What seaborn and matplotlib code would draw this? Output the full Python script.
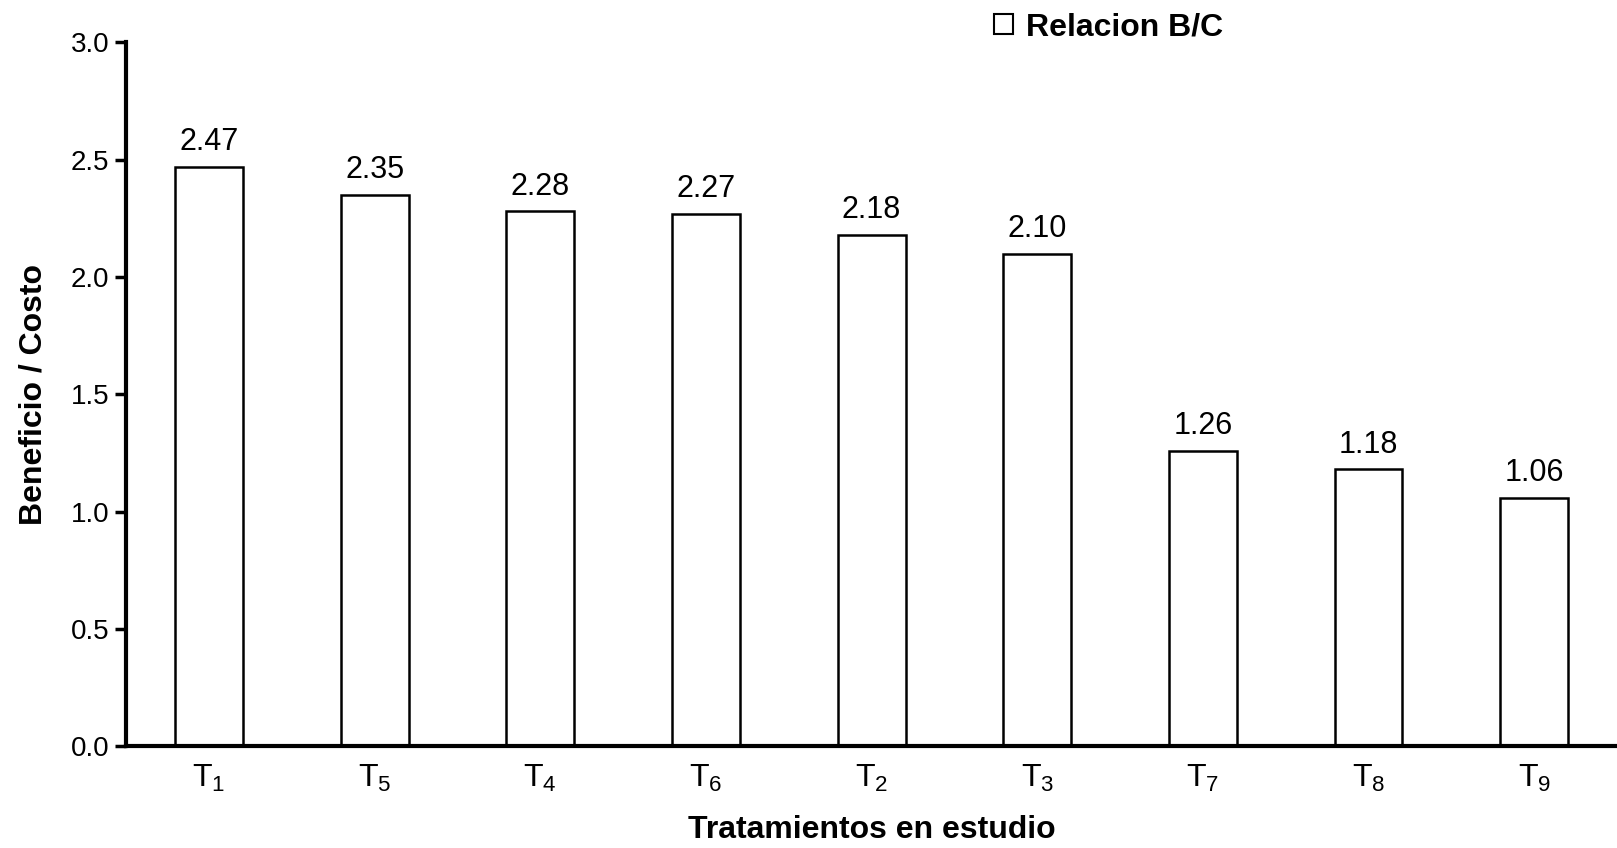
import matplotlib
matplotlib.use("Agg")
import matplotlib.pyplot as plt
import seaborn as sns
import pandas as pd
from matplotlib.patches import Patch

categories = ["T$_1$", "T$_5$", "T$_4$", "T$_6$", "T$_2$", "T$_3$", "T$_7$", "T$_8$", "T$_9$"]
values = [2.47, 2.35, 2.28, 2.27, 2.18, 2.10, 1.26, 1.18, 1.06]
value_labels = ["2.47", "2.35", "2.28", "2.27", "2.18", "2.10", "1.26", "1.18", "1.06"]
yticks = [0.0, 0.5, 1.0, 1.5, 2.0, 2.5, 3.0]

sns.set_theme(style="white")
plt.rcParams['font.family'] = ['Liberation Sans', 'DejaVu Sans']
plt.rcParams['mathtext.fontset'] = 'custom'
plt.rcParams['mathtext.rm'] = 'Liberation Sans'
plt.rcParams['mathtext.it'] = 'Liberation Sans'
plt.rcParams['text.color'] = 'black'
plt.rcParams['axes.labelcolor'] = 'black'
plt.rcParams['xtick.color'] = 'black'
plt.rcParams['ytick.color'] = 'black'

df = pd.DataFrame({"cat": categories, "val": values})

fig = plt.figure(figsize=(16.17, 8.48), dpi=100)
ax = fig.add_axes([0.078, 0.12, 0.922, 0.83])
sns.barplot(data=df, x="cat", y="val", color="white", edgecolor="black",
            linewidth=1.8, width=0.41, ax=ax, saturation=1)
for p in ax.patches:
    p.set_facecolor("white")

ax.bar_label(ax.containers[0], labels=value_labels, padding=7, fontsize=22, color="black")

ax.set_ylim(0, 3.0)
ax.set_xlim(-0.5, 8.5)
ax.set_yticks(yticks)
ax.set_yticklabels([f"{t:.1f}" for t in yticks], fontsize=20)
ax.tick_params(axis='x', labelsize=23, length=0, pad=12)
ax.tick_params(axis='y', left=True, length=8, width=2.5, direction='out', pad=4)

for s in ["top", "right"]:
    ax.spines[s].set_visible(False)
for s in ["left", "bottom"]:
    ax.spines[s].set_linewidth(3)
    ax.spines[s].set_color("black")

ax.set_xlabel("Tratamientos en estudio", fontsize=23, fontweight="bold", va="baseline")
ax.xaxis.set_label_coords(0.5, -0.131)
ax.set_ylabel("Beneficio / Costo", fontsize=23, fontweight="bold", labelpad=16)

handles = [Patch(facecolor="white", edgecolor="black", linewidth=1.5, label="Relacion B/C")]
fig.legend(handles=handles, loc="center left", bbox_to_anchor=(0.597, 0.968),
           frameon=False, prop={"weight": "bold", "size": 23},
           handlelength=0.6, handleheight=0.6, handletextpad=0.4)

fig.savefig("out.png", dpi=100, facecolor="white")
